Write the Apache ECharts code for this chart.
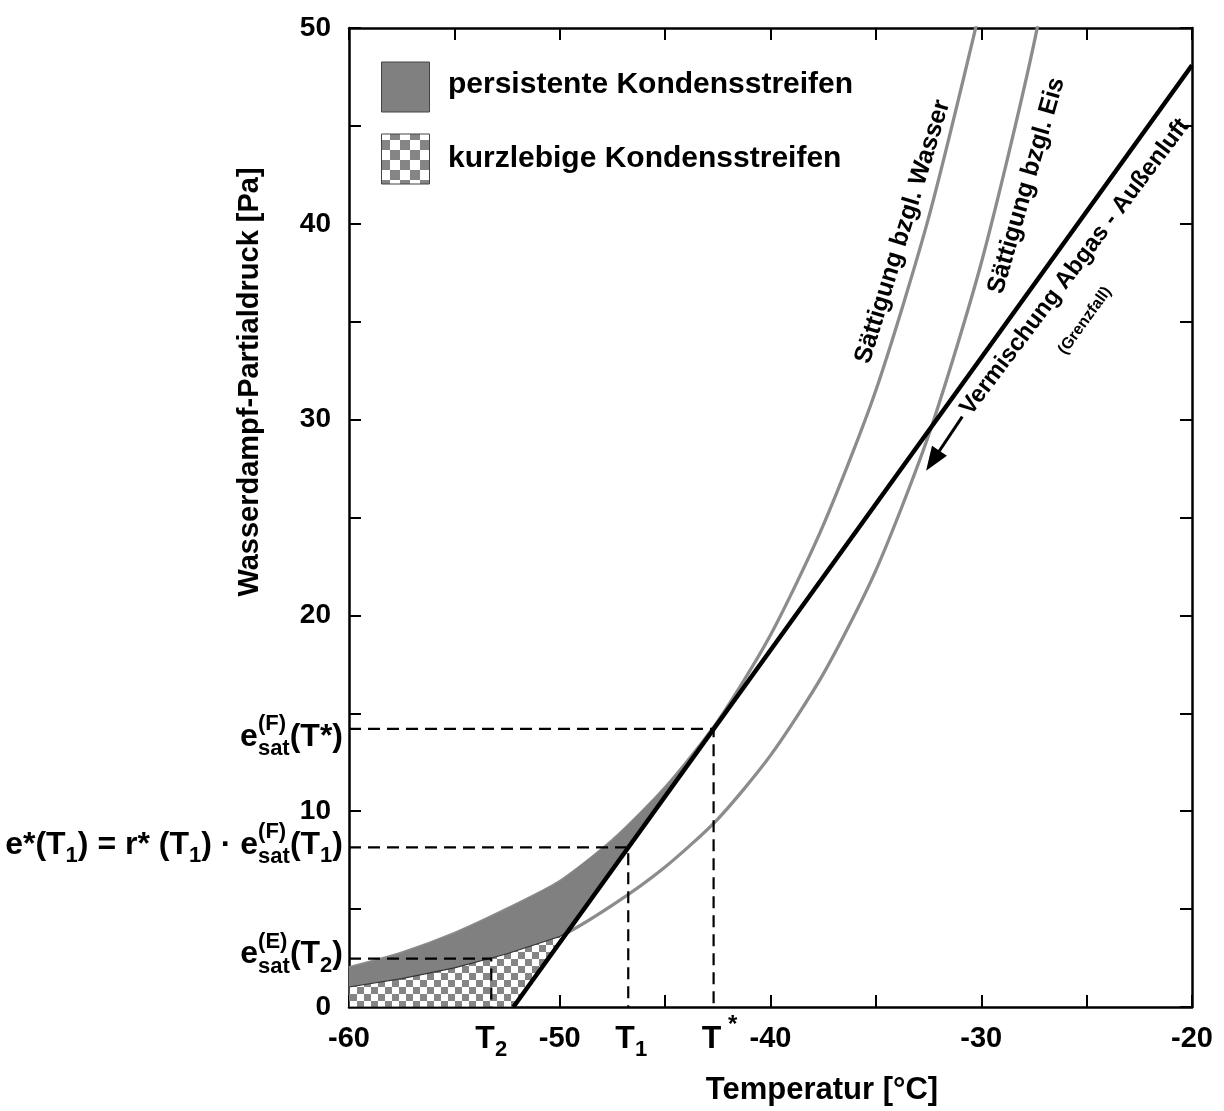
<!DOCTYPE html>
<html>
<head>
<meta charset="utf-8">
<title>Kondensstreifen</title>
<script src="https://cdn.jsdelivr.net/npm/echarts@6/dist/echarts.min.js"></script>
<style>
  html, body { margin: 0; padding: 0; background: #fff; }
  #chart { width: 1224px; height: 1111px; }
</style>
</head>
<body>
<div id="chart"></div>
<script>
// Sättigungsdampfdruck [Pa] über Wasser
const tempWater = [-60, -57.5, -55, -52.5, -50, -47.5, -45, -42.5, -40, -37.5, -35, -32.5, -30];
const satWater = [2.0, 2.75, 3.75, 5.0, 6.4, 8.5, 11.2, 14.6, 19.0, 24.6, 31.5, 40.3, 51.2];
// Sättigungsdampfdruck [Pa] über Eis
const tempIce = [-60, -57.5, -55, -52.5, -50, -47.5, -45, -42.5, -40, -37.5, -35, -32.5, -30, -27.5, -25];
const satIce = [1.02, 1.45, 2.0, 2.72, 3.6, 5.2, 7.15, 9.6, 12.85, 17.0, 22.3, 29.2, 38.0, 49.2, 63.3];
// Mischungsgerade Abgas - Außenluft (Grenzfall)
const mixLine = [[-52.2, 0], [-20, 48.1]];
// markierte Punkte [T, e]
const tStar = [-42.7, 14.2];
const t1Point = [-46.75, 8.15];
const t2Point = [-53.25, 2.47];
const iceCross = [-49.63, 3.84];
const arrowFrom = [-30.9, 30.15];
const arrowTo = [-32.3, 27.9];
// Achsenbeschriftung
const xLabels = [-60, -50, -40, -30, -20];
const yLabels = [0, 10, 20, 30, 40, 50];

const FONT = '"Liberation Sans", Arial, Helvetica, sans-serif';
const MAIN = 32;
const SUB = 22;

function checker(size, color) {
  const cv = document.createElement('canvas');
  cv.width = cv.height = size * 2;
  const g = cv.getContext('2d');
  g.fillStyle = '#fff';
  g.fillRect(0, 0, size * 2, size * 2);
  g.fillStyle = color;
  g.fillRect(0, 0, size, size);
  g.fillRect(size, size, size, size);
  return cv;
}
const plotChecker = { image: checker(7, '#858585'), repeat: 'repeat' };
const legendChecker = { image: checker(10, '#858585'), repeat: 'repeat' };

const waterData = tempWater.map((t, i) => [t, satWater[i]]);
const iceData = tempIce.map((t, i) => [t, satIce[i]]);

// Flächen: persistent (zwischen Eis und Wasser, links der Mischungsgeraden)
const darkPoly = waterData.filter(p => p[0] < tStar[0])
  .concat([tStar, iceCross])
  .concat(iceData.filter(p => p[0] < iceCross[0]).reverse());
// kurzlebig (unter Eis, links der Mischungsgeraden)
const checkerPoly = iceData.filter(p => p[0] < iceCross[0])
  .concat([iceCross, mixLine[0], [-60, 0]]);

function polygonSeries(name, pts, fill, stroke) {
  return {
    type: 'custom',
    name: name,
    data: [[-60, 0]],
    clip: true,
    silent: true,
    z: 3,
    renderItem: function (params, api) {
      return {
        type: 'polygon',
        shape: { points: pts.map(p => api.coord(p)) },
        style: { fill: fill, stroke: stroke || null, lineWidth: stroke ? 1.2 : 0 }
      };
    }
  };
}

function dashed(point) {
  return {
    type: 'line',
    data: [[-60, point[1]], point, [point[0], 0]],
    symbol: 'none',
    silent: true,
    z: 4,
    lineStyle: { color: '#000', width: 2.2, type: [12, 7] }
  };
}

const curveLabels = [
  { value: [-33.72, 39.6], text: 'Sättigung bzgl. Wasser', rotate: 73, size: 25 },
  { value: [-27.85, 41.95], text: 'Sättigung bzgl. Eis', rotate: 74, size: 25 },
  { value: [-25.55, 37.8], text: 'Vermischung Abgas - Außenluft', rotate: 53, size: 24 },
  { value: [-25.08, 35.05], text: '(Grenzfall)', rotate: 54, size: 16 }
];

const axisLine = { onZero: false, lineStyle: { color: '#000', width: 2.5 } };
const axisTick = { inside: true, length: 12, lineStyle: { color: '#000', width: 2 } };

const chart = echarts.init(document.getElementById('chart'));
chart.setOption({
  animation: false,
  backgroundColor: '#fff',
  grid: { left: 349, right: 32, top: 28, bottom: 104 },
  xAxis: [
    {
      type: 'value', min: -60, max: -20, interval: 5,
      axisLine: axisLine, axisTick: axisTick, splitLine: { show: false },
      axisLabel: {
        margin: 17, fontSize: 29, lineHeight: 29, fontWeight: 'bold', fontFamily: FONT, color: '#000',
        formatter: v => xLabels.includes(v) ? String(v) : ''
      }
    },
    {
      type: 'value', position: 'top', min: -60, max: -20, interval: 5,
      axisLine: axisLine, axisTick: axisTick, splitLine: { show: false }, axisLabel: { show: false }
    }
  ],
  yAxis: [
    {
      type: 'value', min: 0, max: 50, interval: 5,
      axisLine: axisLine, axisTick: axisTick, splitLine: { show: false },
      axisLabel: {
        margin: 18, fontSize: 28, fontWeight: 'bold', fontFamily: FONT, color: '#000',
        formatter: v => yLabels.includes(v) ? String(v) : ''
      }
    },
    {
      type: 'value', position: 'right', min: 0, max: 50, interval: 5,
      axisLine: axisLine, axisTick: axisTick, splitLine: { show: false }, axisLabel: { show: false }
    }
  ],
  series: [
    {
      type: 'line', name: 'Wasser', data: waterData, symbol: 'none', silent: true, z: 2, smooth: 0.25,
      lineStyle: { color: '#8c8c8c', width: 3.3 }
    },
    {
      type: 'line', name: 'Eis', data: iceData, symbol: 'none', silent: true, z: 2, smooth: 0.25,
      lineStyle: { color: '#8c8c8c', width: 3.3 }
    },
    polygonSeries('persistent', darkPoly, '#808080'),
    polygonSeries('kurzlebig', checkerPoly, plotChecker, '#333'),
    dashed(tStar),
    dashed(t1Point),
    dashed(t2Point),
    {
      type: 'line', name: 'Mischung', data: mixLine, symbol: 'none', silent: true, z: 5,
      lineStyle: { color: '#000', width: 4.5 },
      markLine: {
        silent: true,
        symbol: ['none', 'triangle'],
        symbolSize: [18, 24],
        label: { show: false },
        lineStyle: { color: '#000', width: 3, type: 'solid' },
        data: [[{ coord: arrowFrom }, { coord: arrowTo }]]
      }
    },
    {
      type: 'scatter', name: 'Beschriftung', silent: true, z: 6,
      symbolSize: 1, itemStyle: { color: 'rgba(0,0,0,0)' },
      data: curveLabels.map(d => ({
        value: d.value,
        label: {
          show: true, position: 'inside', formatter: d.text, rotate: d.rotate,
          fontSize: d.size, fontWeight: 'bold', fontFamily: FONT, color: '#000',
          opacity: 1, textBorderWidth: 0, textBorderColor: 'transparent'
        }
      }))
    }
  ]
});

// zusammengesetzte Beschriftungen mit Hoch-/Tiefstellung
const measure = document.createElement('canvas').getContext('2d');
function textWidth(t, size) {
  measure.font = 'bold ' + size + 'px ' + FONT;
  return measure.measureText(t).width;
}
function composite(pieces, px, py, align) {
  const widths = pieces.map(p => Math.max.apply(null, (p.stack || [p]).map(q => textWidth(q.t, q.s || MAIN))));
  const total = widths.reduce((a, b) => a + b, 0);
  let x = align === 'right' ? px - total : align === 'center' ? px - total / 2 : px;
  const els = [];
  pieces.forEach((p, i) => {
    (p.stack || [p]).forEach(q => {
      els.push(textEl(q.t, x, py + (q.dy || 0), q.s || MAIN, 'left'));
    });
    x += widths[i];
  });
  return els;
}
function textEl(t, x, y, size, align, rotation) {
  return {
    type: 'text', silent: true, z: 100, x: x, y: y, rotation: rotation || 0,
    style: {
      text: t, font: 'bold ' + size + 'px ' + FONT, fill: '#000',
      align: align, verticalAlign: 'middle', textAlign: align, textVerticalAlign: 'middle'
    }
  };
}

const toPx = p => chart.convertToPixel({ xAxisIndex: 0, yAxisIndex: 0 }, p);
const satF = { stack: [{ t: '(F)', s: SUB, dy: -13 }, { t: 'sat', s: SUB, dy: 12 }] };
const satE = { stack: [{ t: '(E)', s: SUB, dy: -13 }, { t: 'sat', s: SUB, dy: 12 }] };
const sub = t => ({ t: t, s: SUB, dy: 11 });

let graphics = [];
let a = toPx([-60, tStar[1]]);
graphics = graphics.concat(composite([{ t: 'e' }, satF, { t: '(T*)' }], a[0] - 6, a[1] + 8, 'right'));
a = toPx([-60, t1Point[1]]);
graphics = graphics.concat(composite([
  { t: 'e*(T' }, sub('1'), { t: ') = r* (T' }, sub('1'), { t: ') · e' }, satF, { t: '(T' }, sub('1'), { t: ')' }
], a[0] - 6, a[1] - 2, 'right'));
a = toPx([-60, t2Point[1]]);
graphics = graphics.concat(composite([{ t: 'e' }, satE, { t: '(T' }, sub('2'), { t: ')' }], a[0] - 6, a[1] - 4, 'right'));

a = toPx([t2Point[0], 0]);
graphics = graphics.concat(composite([{ t: 'T' }, sub('2')], a[0], a[1] + 32, 'center'));
a = toPx([t1Point[0], 0]);
graphics = graphics.concat(composite([{ t: 'T' }, sub('1')], a[0] + 3, a[1] + 32, 'center'));
a = toPx([tStar[0], 0]);
graphics = graphics.concat(composite([{ t: 'T' }, { t: ' *', s: 24, dy: -14 }], a[0] + 6, a[1] + 32, 'center'));

// Achsentitel
graphics.push(textEl('Temperatur [°C]', 822, 1090, 31, 'center'));
graphics.push(textEl('Wasserdampf-Partialdruck [Pa]', 250, 382, 29, 'center', Math.PI / 2));

// Legende
graphics.push({ type: 'rect', silent: true, z: 100, shape: { x: 381.5, y: 62, width: 48, height: 50 },
  style: { fill: '#808080', stroke: '#444', lineWidth: 1 } });
graphics.push({ type: 'rect', silent: true, z: 100, shape: { x: 381.5, y: 134, width: 48, height: 50 },
  style: { fill: legendChecker, stroke: '#444', lineWidth: 1 } });
graphics.push(textEl('persistente Kondensstreifen', 448, 85, 30, 'left'));
graphics.push(textEl('kurzlebige Kondensstreifen', 448, 159, 30, 'left'));

chart.setOption({ graphic: graphics });
</script>
</body>
</html>
